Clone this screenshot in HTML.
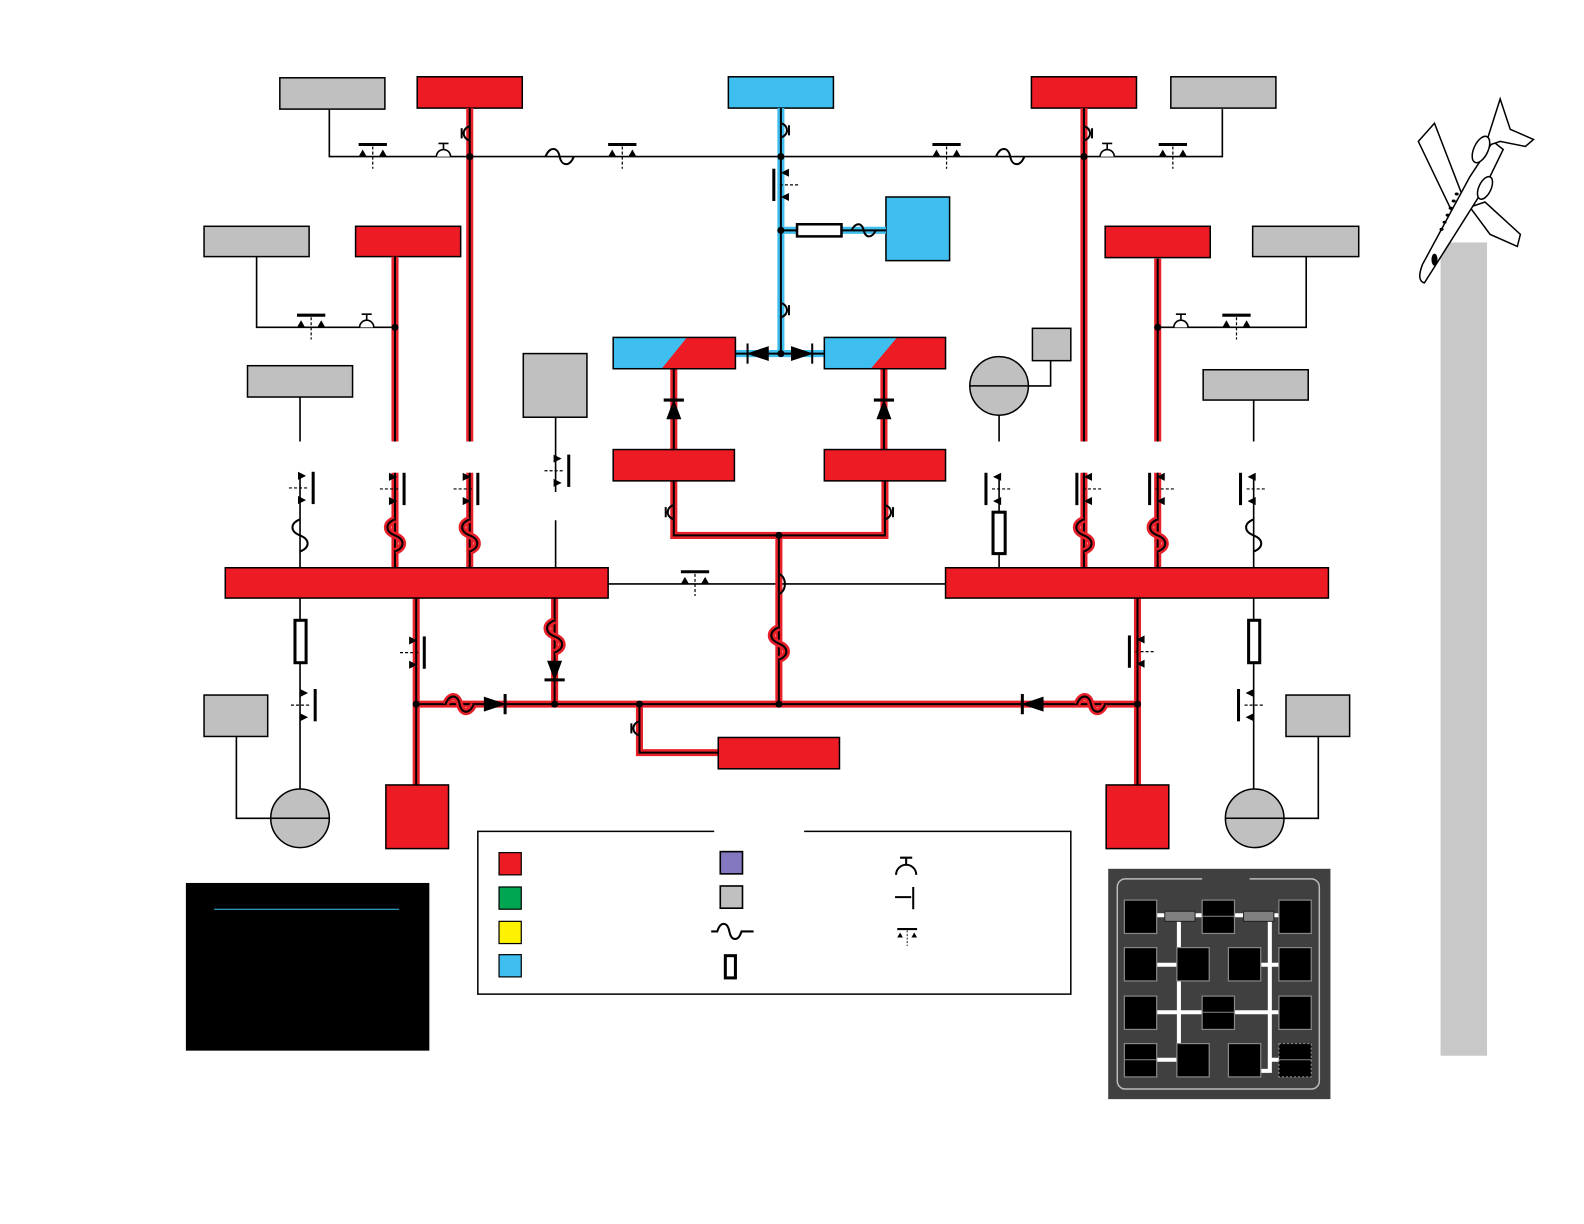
<!DOCTYPE html>
<html><head><meta charset="utf-8"><style>html,body{margin:0;padding:0;background:#fff}svg{display:block}</style></head>
<body>
<svg width="1584" height="1224" viewBox="0 0 1568 1211.6" preserveAspectRatio="none" xmlns="http://www.w3.org/2000/svg">
<defs>
<g id="redp" fill="none">
<path d="M465,107 V437 M391,254 V437 M1073,107 V437 M1146,256 V437"/>
<path d="M391,468 V562 M465,468 V562 M1073,468 V562 M1146,468 V562"/>
<path d="M667,365 V445 M875,365 V445 M667,476 V530 H876 V476 M771,530 V697"/>
<path d="M412,592 V777 M549,592 V697 M412,697 H1126 M1126,592 V777 M633,697 V745 H711"/>
</g>
<g id="bluep" fill="none">
<path d="M773,107 V350 M773,228 H877 M728,350 H816"/>
</g>
<g id="vbrk">
<polygon points="-5,-16 3,-12 -5,-8" fill="#000"/>
<polygon points="-5,8 3,12 -5,16" fill="#000"/>
<line x1="-14" y1="0" x2="4" y2="0" stroke="#000" stroke-width="1.2" stroke-dasharray="3,2"/>
<line x1="10" y1="-16" x2="10" y2="16" stroke="#000" stroke-width="3"/>
</g>
<g id="hbrk">
<line x1="-14" y1="-12" x2="14" y2="-12" stroke="#000" stroke-width="3"/>
<polygon points="-14,0 -10,-7 -6,0" fill="#000"/>
<polygon points="6,0 10,-7 14,0" fill="#000"/>
<line x1="0" y1="-10" x2="0" y2="12" stroke="#000" stroke-width="1.2" stroke-dasharray="3,2"/>
</g>
<path id="vfuse" d="M0,-16 C-10,-12 -10,-4 0,0 C10,4 10,12 0,16" fill="none"/>
<path id="hfuse" d="M-14,0 C-10,-10 -2,-10 0,0 C2,10 10,10 14,0" fill="none"/>
</defs>

<rect x="277" y="77" width="104" height="31" fill="#c0c0c0" stroke="#000" stroke-width="1.5"/>
<rect x="413" y="76" width="104" height="31" fill="#ed1c24" stroke="#000" stroke-width="1.5"/>
<rect x="721" y="76" width="104" height="31" fill="#3fbfef" stroke="#000" stroke-width="1.5"/>
<rect x="1021" y="76" width="104" height="31" fill="#ed1c24" stroke="#000" stroke-width="1.5"/>
<rect x="1159" y="76" width="104" height="31" fill="#c0c0c0" stroke="#000" stroke-width="1.5"/>
<rect x="877" y="195" width="63" height="63" fill="#3fbfef" stroke="#000" stroke-width="1.5"/>
<rect x="202" y="224" width="104" height="30" fill="#c0c0c0" stroke="#000" stroke-width="1.5"/>
<rect x="352" y="224" width="104" height="30" fill="#ed1c24" stroke="#000" stroke-width="1.5"/>
<rect x="1094" y="224" width="104" height="31" fill="#ed1c24" stroke="#000" stroke-width="1.5"/>
<rect x="1240" y="224" width="105" height="30" fill="#c0c0c0" stroke="#000" stroke-width="1.5"/>
<rect x="245" y="362" width="104" height="31" fill="#c0c0c0" stroke="#000" stroke-width="1.5"/>
<rect x="518" y="350" width="63" height="63" fill="#c0c0c0" stroke="#000" stroke-width="1.5"/>
<rect x="1191" y="366" width="104" height="30" fill="#c0c0c0" stroke="#000" stroke-width="1.5"/>
<rect x="1022" y="325" width="38" height="32" fill="#c0c0c0" stroke="#000" stroke-width="1.5"/>

<g stroke="#000" stroke-width="1.6" fill="none">
<path d="M326,108 V155 H1210 V108"/>
<path d="M254,254 V324 H391 M1293,254 V324 H1146"/>
<path d="M297,393 V437 M297,470 V562 M550,413 V487 M550,515 V562"/>
<path d="M989,411 V437 M1018,382 H1040 V357 M989,470 V562 M1241,396 V437 M1241,470 V562"/>
<path d="M602,578 H936"/>
<path d="M297,592 V781 M234,729 V810 H268 M1241,592 V781 M1305,729 V810 H1271"/>
</g>

<use href="#redp" stroke="#e8202a" stroke-width="7"/>
<use href="#redp" stroke="#000" stroke-width="2"/>
<use href="#bluep" stroke="#3fbfef" stroke-width="7"/>
<use href="#bluep" stroke="#000" stroke-width="2"/>

<rect x="607" y="334" width="121" height="31" fill="#ed1c24"/>
<polygon points="607,334 680,334 655,365 607,365" fill="#3fbfef"/>
<rect x="607" y="334" width="121" height="31" fill="none" stroke="#000" stroke-width="1.5"/>
<rect x="816" y="334" width="120" height="31" fill="#ed1c24"/>
<polygon points="816,334 888,334 862,365 816,365" fill="#3fbfef"/>
<rect x="816" y="334" width="120" height="31" fill="none" stroke="#000" stroke-width="1.5"/>
<rect x="607" y="445" width="120" height="31" fill="#ed1c24" stroke="#000" stroke-width="1.5"/>
<rect x="816" y="445" width="120" height="31" fill="#ed1c24" stroke="#000" stroke-width="1.5"/>

<rect x="223" y="562" width="379" height="30" fill="#ed1c24" stroke="#000" stroke-width="1.5"/>
<rect x="936" y="562" width="379" height="30" fill="#ed1c24" stroke="#000" stroke-width="1.5"/>
<rect x="382" y="777" width="62" height="63" fill="#ed1c24" stroke="#000" stroke-width="1.5"/>
<rect x="1095" y="777" width="62" height="63" fill="#ed1c24" stroke="#000" stroke-width="1.5"/>
<rect x="711" y="730" width="120" height="31" fill="#ed1c24" stroke="#000" stroke-width="1.5"/>
<rect x="202" y="688" width="63" height="41" fill="#c0c0c0" stroke="#000" stroke-width="1.5"/>
<rect x="1273" y="688" width="63" height="41" fill="#c0c0c0" stroke="#000" stroke-width="1.5"/>

<g stroke="#000" stroke-width="1.5" fill="#c0c0c0">
<circle cx="989" cy="382" r="29"/><line x1="960" y1="382" x2="1018" y2="382"/>
<circle cx="297" cy="810" r="29"/><line x1="268" y1="810" x2="326" y2="810"/>
<circle cx="1242" cy="810" r="29"/><line x1="1213" y1="810" x2="1271" y2="810"/>
</g>

<g fill="#fff" stroke="#000" stroke-width="3">
<rect x="292" y="614" width="11" height="42"/>
<rect x="983" y="507" width="12" height="41"/>
<rect x="1236" y="614" width="11" height="42"/>
<rect x="789" y="222" width="44" height="12" stroke-width="2.5"/>
</g>

<use href="#vbrk" transform="translate(300,483)"/>
<use href="#vbrk" transform="translate(390,484)"/>
<use href="#vbrk" transform="translate(463,484)"/>
<use href="#vbrk" transform="translate(553,466)"/>
<use href="#vbrk" transform="translate(986,484) scale(-1,1)"/>
<use href="#vbrk" transform="translate(1076,484) scale(-1,1)"/>
<use href="#vbrk" transform="translate(1148,484) scale(-1,1)"/>
<use href="#vbrk" transform="translate(1238,484) scale(-1,1)"/>
<use href="#vbrk" transform="translate(410,646)"/>
<use href="#vbrk" transform="translate(1128,645) scale(-1,1)"/>
<use href="#vbrk" transform="translate(302,698)"/>
<use href="#vbrk" transform="translate(1236,698) scale(-1,1)"/>
<use href="#vbrk" transform="translate(776,183) scale(-1,1)"/>
<use href="#hbrk" transform="translate(369,155)"/>
<use href="#hbrk" transform="translate(616,155)"/>
<use href="#hbrk" transform="translate(937,155)"/>
<use href="#hbrk" transform="translate(1161,155)"/>
<use href="#hbrk" transform="translate(308,324)"/>
<use href="#hbrk" transform="translate(1224,324)"/>
<use href="#hbrk" transform="translate(688,578)"/>

<g stroke="#000" stroke-width="1.6" fill="#fff">
<path d="M432,155 a7,7 0 0 1 14,0 M439,148 v-6 M434,142 h10"/>
<path d="M356,324 a7,7 0 0 1 14,0 M363,317 v-6 M358,311 h10"/>
<path d="M1089,155 a7,7 0 0 1 14,0 M1096,148 v-6 M1091,142 h10"/>
<path d="M1162,324 a7,7 0 0 1 14,0 M1169,317 v-6 M1164,311 h10"/>
</g>

<g stroke="#000" stroke-width="2" fill="none">
<use href="#hfuse" transform="translate(554,155)"/>
<use href="#hfuse" transform="translate(1000,155)"/>
<use href="#vfuse" transform="translate(297,530)"/>
<use href="#vfuse" transform="translate(1241,530)"/>
</g>
<g stroke="#e8202a" stroke-width="7" fill="none">
<use href="#vfuse" transform="translate(391,530)"/>
<use href="#vfuse" transform="translate(465,530)"/>
<use href="#vfuse" transform="translate(1073,530)"/>
<use href="#vfuse" transform="translate(1146,530)"/>
<use href="#vfuse" transform="translate(549,630)"/>
<use href="#vfuse" transform="translate(771,637)"/>
<use href="#hfuse" transform="translate(455,697)"/>
<use href="#hfuse" transform="translate(1080,697)"/>
</g>
<g stroke="#000" stroke-width="2" fill="none">
<use href="#vfuse" transform="translate(391,530)"/>
<use href="#vfuse" transform="translate(465,530)"/>
<use href="#vfuse" transform="translate(1073,530)"/>
<use href="#vfuse" transform="translate(1146,530)"/>
<use href="#vfuse" transform="translate(549,630)"/>
<use href="#vfuse" transform="translate(771,637)"/>
<use href="#hfuse" transform="translate(455,697)"/>
<use href="#hfuse" transform="translate(1080,697)"/>
<path d="M771,568 c8,3 8,17 0,20"/>
</g>

<g fill="#000" stroke="#000" stroke-width="2">
<polygon points="661,414 673,414 667,398"/><line x1="657" y1="396" x2="677" y2="396" stroke-width="3"/>
<polygon points="869,414 881,414 875,398"/><line x1="865" y1="396" x2="885" y2="396" stroke-width="3"/>
<polygon points="543,655 555,655 549,671"/><line x1="539" y1="673" x2="559" y2="673" stroke-width="3"/>
<polygon points="480,691 480,703 498,697"/><line x1="500" y1="687" x2="500" y2="707" stroke-width="3"/>
<polygon points="1032,691 1032,703 1014,697"/><line x1="1012" y1="687" x2="1012" y2="707" stroke-width="3"/>
<polygon points="760,344 760,356 742,350"/><line x1="740" y1="340" x2="740" y2="360" stroke-width="2"/>
<polygon points="784,344 784,356 802,350"/><line x1="804" y1="340" x2="804" y2="360" stroke-width="2"/>
</g>
<g stroke="#000" stroke-width="2" fill="none">
<path d="M465,125 c-8,2 -8,12 0,14 M457,127 v10"/>
<path d="M1073,125 c8,2 8,12 0,14 M1081,127 v10"/>
<path d="M773,122 c8,2 8,12 0,14 M781,124 v10"/>
<path d="M773,300 c8,2 8,12 0,14 M781,302 v10"/>
<path d="M667,500 c-8,2 -8,12 0,14 M659,502 v10"/>
<path d="M876,500 c8,2 8,12 0,14 M884,502 v10"/>
<path d="M633,714 c-8,2 -8,12 0,14 M625,716 v10"/>
<path d="M843,228 c4,-8 10,-8 12,0 c2,8 8,8 12,0"/>
</g>
<g fill="#000">
<circle cx="465" cy="155" r="3.5"/><circle cx="773" cy="155" r="3.5"/><circle cx="1073" cy="155" r="3.5"/>
<circle cx="773" cy="228" r="3.5"/><circle cx="773" cy="350" r="3.5"/><circle cx="391" cy="324" r="3.5"/>
<circle cx="1146" cy="324" r="3.5"/><circle cx="771" cy="530" r="3.5"/>
<circle cx="412" cy="697" r="3.5"/><circle cx="549" cy="697" r="3.5"/><circle cx="633" cy="697" r="3.5"/>
<circle cx="771" cy="697" r="3.5"/><circle cx="1126" cy="697" r="3.5"/>
</g>

<path d="M707,823 H473 V984 H1060 V823 H796" fill="none" stroke="#000" stroke-width="1.5"/>
<g stroke="#000" stroke-width="1.2">
<rect x="494" y="844" width="22" height="22" fill="#ed1c24"/>
<rect x="494" y="878" width="22" height="22" fill="#00a651"/>
<rect x="494" y="912" width="22" height="22" fill="#fff200"/>
<rect x="494" y="945" width="22" height="22" fill="#3fbfef"/>
<rect x="713" y="843" width="22" height="22" fill="#8478c0" stroke-width="1.6"/>
<rect x="713" y="877" width="22" height="22" fill="#c0c0c0" stroke-width="1.6"/>
</g>
<g stroke="#000" stroke-width="2" fill="none">
<path d="M704,922 h6 c3,-10 10,-10 12,0 c2,10 9,10 12,0 h12"/>
<rect x="718" y="946" width="10" height="22" stroke-width="3"/>
<path d="M887,866 a10,10 0 0 1 20,0 M897,856 v-7 M891,849 h12"/>
<path d="M886,888 h16 M904,878 v22"/>
</g>
<use href="#hbrk" transform="translate(898,928) scale(0.7)"/>

<rect x="184" y="874" width="241" height="166" fill="#000"/>
<line x1="212" y1="900" x2="395" y2="900" stroke="#3fbfef" stroke-width="1"/>

<rect x="1097" y="860" width="220" height="228" fill="#404040"/>
<path d="M1190,870 H1114 a8,8 0 0 0 -8,8 V1070 a8,8 0 0 0 8,8 H1298 a8,8 0 0 0 8,-8 V878 a8,8 0 0 0 -8,-8 H1237" fill="none" stroke="#bbb" stroke-width="1.5"/>
<g stroke="#fff" stroke-width="4" fill="none">
<path d="M1130,906 H1280 M1167,906 V1060 H1180 M1257,906 V1060 H1232"/>
<path d="M1130,955 H1180 M1232,955 H1280 M1130,1002 H1280 M1130,1049 H1167 M1257,1049 H1280"/>
</g>
<rect x="1153" y="902" width="30" height="10" fill="#808080" stroke="#222"/>
<rect x="1231" y="902" width="30" height="10" fill="#808080" stroke="#222"/>
<g fill="#000" stroke="#888" stroke-width="1.2">
<rect x="1113" y="891" width="32" height="33"/><rect x="1190" y="891" width="32" height="33"/><rect x="1266" y="891" width="32" height="33"/>
<rect x="1113" y="938" width="32" height="33"/><rect x="1165" y="938" width="32" height="33"/><rect x="1216" y="938" width="32" height="33"/><rect x="1266" y="938" width="32" height="33"/>
<rect x="1113" y="986" width="32" height="33"/><rect x="1190" y="986" width="32" height="33"/><rect x="1266" y="986" width="32" height="33"/>
<rect x="1113" y="1033" width="32" height="33"/><rect x="1165" y="1033" width="32" height="33"/><rect x="1216" y="1033" width="32" height="33"/><rect x="1266" y="1033" width="32" height="33" stroke-dasharray="2,2"/>
</g>
<g stroke="#888" stroke-width="1"><line x1="1190" y1="907" x2="1222" y2="907"/><line x1="1190" y1="1002" x2="1222" y2="1002"/><line x1="1113" y1="1049" x2="1145" y2="1049"/><line x1="1266" y1="1049" x2="1298" y2="1049"/></g>

<rect x="1426" y="240" width="46" height="805" fill="#c8c8c8"/>
<g stroke="#000" stroke-width="1.5" fill="#fff">
<path d="M1420,122 L1404,140 L1440,215 L1452,205 Z"/>
<path d="M1455,205 L1475,232 L1502,244 L1505,232 L1470,200 Z"/>
<path d="M1410,280 Q1402,278 1408,262 L1455,175 L1478,140 L1488,148 L1470,185 Z"/>
<path d="M1470,145 L1485,98 L1495,128 L1518,138 L1510,145 L1485,140 Z"/>
<ellipse cx="1466" cy="148" rx="7" ry="14" transform="rotate(25 1466 148)"/>
<ellipse cx="1470" cy="186" rx="6" ry="12" transform="rotate(25 1470 186)"/>
</g>
<g fill="#000"><ellipse cx="1442" cy="192" rx="2" ry="1.5"/><ellipse cx="1439" cy="199" rx="2" ry="1.5"/><ellipse cx="1436" cy="206" rx="2" ry="1.5"/><ellipse cx="1433" cy="213" rx="2" ry="1.5"/><ellipse cx="1430" cy="220" rx="2" ry="1.5"/><ellipse cx="1427" cy="227" rx="2" ry="1.5"/><ellipse cx="1420" cy="257" rx="3" ry="6"/></g>
</svg>
</body></html>
